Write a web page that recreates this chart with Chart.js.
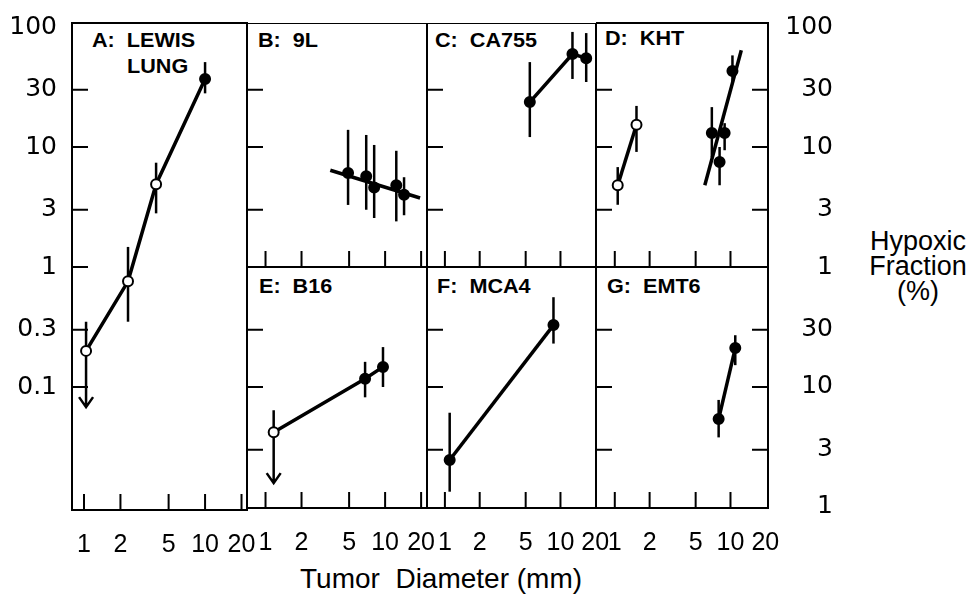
<!DOCTYPE html>
<html>
<head>
<meta charset="utf-8">
<script src="https://cdn.jsdelivr.net/npm/chart.js@4.4.1/dist/chart.umd.min.js"></script>
<style>
  body { margin: 0; background: #fff; }
  #fig { position: relative; width: 979px; height: 600px; overflow: hidden; color: #000;
         font-family: 'Liberation Sans', Arial, sans-serif; }
  .panel { position: absolute; }
  .tag { position: absolute; font-weight: bold; font-size: 20px; line-height: 1; white-space: pre;
         transform: scaleX(1.08); transform-origin: left top; }
  .title { position: absolute; font-size: 28px; line-height: 1; white-space: pre; }
  .side { position: absolute; font-size: 27px; line-height: 25px; text-align: center; width: 140px; }
</style>
</head>
<body>
<div id="fig">
  <div class="tag" style="left:92px;top:30px">A:  LEWIS</div>
  <div class="tag" style="left:127px;top:56px">LUNG</div>
  <div class="tag" style="left:258px;top:30px">B:  9L</div>
  <div class="tag" style="left:435px;top:30px">C:  CA755</div>
  <div class="tag" style="left:605px;top:28px">D:  KHT</div>
  <div class="tag" style="left:259px;top:276px">E:  B16</div>
  <div class="tag" style="left:437px;top:276px">F:  MCA4</div>
  <div class="tag" style="left:607px;top:276px">G:  EMT6</div>
  <div class="title" style="left:300px;top:565px">Tumor  Diameter (mm)</div>
  <div class="side" style="left:848px;top:229px">Hypoxic<br>Fraction<br>(%)</div>
</div>
<script>
// axis ticks
const xTicks = [1, 2, 5, 10, 20];
const yTicksLeft = [100, 30, 10, 3, 1, 0.3, 0.1];
const yTicksTop = [100, 30, 10, 3, 1];
const yTicksBottom = [30, 10, 3, 1];
const yMarks = [30, 10, 3, 1, 0.3, 0.1];

// A: Lewis lung
const lewisX = [1.04, 2.31, 3.94, 10.0];
const lewisY = [0.20, 0.76, 4.9, 36.9];
const lewisLo = [0.068, 0.35, 2.8, 28];
const lewisHi = [0.35, 1.47, 7.4, 51];
const lewisOpen = [true, true, true, false];
const lewisArrow = [true, false, false, false];

// B: 9L
const nineLX = [4.9, 6.95, 8.1, 12.4, 14.4];
const nineLY = [6.07, 5.7, 4.6, 4.8, 4.0];
const nineLLo = [3.29, 3.0, 2.56, 2.4, 2.7];
const nineLHi = [13.9, 12.6, 10.4, 9.3, 5.6];
const nineLFitX = [3.48, 19.6];
const nineLFitY = [6.4, 3.76];

// C: CA755
const ca755X = [5.43, 12.7, 16.7];
const ca755Y = [23.7, 59.6, 55];
const ca755Lo = [12.1, 36.9, 34.8];
const ca755Hi = [51, 91, 89];

// D: KHT
const khtOpenX = [1.06, 1.54];
const khtOpenY = [4.8, 15.3];
const khtOpenLo = [3.3, 9.1];
const khtOpenHi = [6.8, 22];
const khtX = [6.9, 8.05, 8.9, 10.4];
const khtY = [13.1, 7.5, 13.1, 43];
const khtLo = [8.2, 4.8, 9.4, 34];
const khtHi = [21.5, 10, 15.8, 58];
const khtFitX = [6.0, 12.4];
const khtFitY = [4.8, 64];

// E: B16
const b16X = [1.17, 6.8, 9.6];
const b16Y = [4.2, 11.7, 14.7];
const b16Lo = [1.58, 8.2, 10];
const b16Hi = [6.4, 16.2, 21.5];
const b16Open = [true, false, false];
const b16Arrow = [true, false, false];

// F: MCA4
const mca4X = [1.10, 8.7];
const mca4Y = [2.46, 32.8];
const mca4Lo = [1.34, 23];
const mca4Hi = [6.1, 56];

// G: EMT6
const emt6X = [7.9, 11.0];
const emt6Y = [5.4, 21.1];
const emt6Lo = [3.8, 15.2];
const emt6Hi = [7.8, 27];

// pick a narrow face for the x labels if one is installed
function hasFont(name) {
  const c = document.createElement('canvas').getContext('2d');
  c.font = '40px monospace';
  const base = c.measureText('0123456789 Diameter').width;
  c.font = "40px '" + name + "', monospace";
  return c.measureText('0123456789 Diameter').width !== base;
}
const narrow = hasFont('Liberation Sans Narrow');
const xFont = narrow
  ? { family: "'Liberation Sans Narrow'", size: 27 }
  : { family: "'Liberation Sans', Arial, sans-serif", size: 25 };
const yFont = { family: "'DejaVu Sans', 'Liberation Sans', sans-serif", size: 25 };

function series(xs, ys, opt) {
  opt = opt || {};
  return {
    data: xs.map((x, i) => ({ x: x, y: ys[i] })),
    errLo: opt.lo,
    errHi: opt.hi,
    arrow: opt.arrow || [],
    showLine: opt.line !== false,
    borderColor: '#000',
    borderWidth: 3.5,
    pointRadius: opt.noPoints ? 0 : 5,
    pointBackgroundColor: xs.map((_, i) => (opt.open && opt.open[i]) ? '#fff' : '#000'),
    pointBorderColor: '#000',
    pointBorderWidth: 2,
    tension: 0
  };
}

const framePlugin = {
  id: 'frame',
  beforeDatasetsDraw(chart) {
    const ctx = chart.ctx;
    const sx = chart.scales.x, sy = chart.scales.y;
    ctx.save();
    ctx.strokeStyle = '#000';
    ctx.lineWidth = 2.5;
    chart.data.datasets.forEach(ds => {
      if (!ds.errLo) return;
      ds.data.forEach((p, i) => {
        const x = sx.getPixelForValue(p.x);
        const y0 = sy.getPixelForValue(ds.errLo[i]);
        const y1 = sy.getPixelForValue(ds.errHi[i]);
        ctx.beginPath();
        ctx.moveTo(x, y0);
        ctx.lineTo(x, y1);
        if (ds.arrow[i]) {
          ctx.moveTo(x - 7, y0 - 10);
          ctx.lineTo(x, y0);
          ctx.lineTo(x + 7, y0 - 10);
        }
        ctx.stroke();
      });
    });
    ctx.restore();
  },
  afterDraw(chart, args, opts) {
    const ctx = chart.ctx, a = chart.chartArea;
    const sx = chart.scales.x, sy = chart.scales.y;
    const len = 16;
    ctx.save();
    ctx.strokeStyle = '#000';
    ctx.lineWidth = 2;
    ctx.strokeRect(a.left, a.top, a.right - a.left, a.bottom - a.top);
    ctx.beginPath();
    yMarks.forEach(v => {
      const y = sy.getPixelForValue(v);
      if (y < a.top + 4 || y > a.bottom - 4) return;
      ctx.moveTo(a.left, y); ctx.lineTo(a.left + len, y);
      if (opts.right) { ctx.moveTo(a.right, y); ctx.lineTo(a.right - len, y); }
    });
    xTicks.forEach(v => {
      const x = sx.getPixelForValue(v);
      if (x < a.left + 3 || x > a.right - 3) return;
      ctx.moveTo(x, a.bottom); ctx.lineTo(x, a.bottom - len);
    });
    ctx.stroke();
    ctx.restore();
  }
};

const fig = document.getElementById('fig');

function panel(p) {
  const pad = Object.assign({ l: 0, r: 0, t: 0, b: 0 }, p.pad);
  const div = document.createElement('div');
  div.className = 'panel';
  div.style.left = (p.area.l - pad.l) + 'px';
  div.style.top = (p.area.t - pad.t) + 'px';
  div.style.width = (p.area.w + pad.l + pad.r) + 'px';
  div.style.height = (p.area.h + pad.t + pad.b) + 'px';
  const canvas = document.createElement('canvas');
  div.appendChild(canvas);
  fig.appendChild(div);

  const yPos = p.yTicks ? p.yPos : null;
  const xScale = {
    type: 'logarithmic',
    min: p.xRange[0],
    max: p.xRange[1],
    display: !!p.xLabels,
    grid: { display: false, drawTicks: false },
    border: { display: false },
    afterBuildTicks: s => { s.ticks = xTicks.map(v => ({ value: v })); },
    ticks: { autoSkip: false, maxRotation: 0, padding: 20, color: '#000', font: xFont,
             callback: v => String(v) }
  };
  if (p.xLabels) {
    xScale.afterFit = s => { s.height = pad.b; s.paddingLeft = 0; s.paddingRight = 0; };
  }
  const yScale = {
    type: 'logarithmic',
    position: yPos || 'left',
    min: p.yRange[0],
    max: p.yRange[1],
    display: !!yPos,
    grid: { display: false, drawTicks: false },
    border: { display: false },
    afterBuildTicks: s => { s.ticks = (p.yTicks || []).map(v => ({ value: v })); },
    ticks: { autoSkip: false, padding: 15, color: '#000', font: yFont,
             crossAlign: yPos === 'right' ? 'far' : 'near',
             callback: v => String(v) }
  };
  if (yPos) {
    yScale.afterFit = s => {
      s.width = yPos === 'left' ? pad.l : pad.r;
      s.paddingTop = 0; s.paddingBottom = 0;
    };
  }

  return new Chart(canvas, {
    type: 'scatter',
    data: { datasets: p.datasets },
    plugins: [framePlugin],
    options: {
      responsive: true,
      maintainAspectRatio: false,
      animation: false,
      events: [],
      layout: {
        autoPadding: false,
        padding: {
          left: yPos === 'left' ? 0 : pad.l,
          right: yPos === 'right' ? 0 : pad.r,
          top: pad.t,
          bottom: p.xLabels ? 0 : pad.b
        }
      },
      plugins: {
        legend: { display: false },
        tooltip: { enabled: false },
        frame: { right: !!p.rightMarks }
      },
      scales: { x: xScale, y: yScale }
    }
  });
}

const rangeA = [0.00944, 108];
const rangeTop = [1, 108];
const rangeBottom = [0.98, 100];
const colA = [0.796, 22.2];
const colB = [0.708, 22.4];
const colC = [0.730, 20.3];
const colD = [0.688, 21.1];

panel({
  area: { l: 72, t: 23, w: 175, h: 487 }, pad: { l: 72, r: 15, t: 15, b: 50 },
  xRange: colA, yRange: rangeA, xLabels: true, yTicks: yTicksLeft, yPos: 'left',
  datasets: [series(lewisX, lewisY, { lo: lewisLo, hi: lewisHi, open: lewisOpen, arrow: lewisArrow })]
});
panel({
  area: { l: 247, t: 23, w: 180, h: 244 },
  xRange: colB, yRange: rangeTop,
  datasets: [
    series(nineLFitX, nineLFitY, { noPoints: true }),
    series(nineLX, nineLY, { lo: nineLLo, hi: nineLHi, line: false })
  ]
});
panel({
  area: { l: 427, t: 23, w: 169, h: 244 },
  xRange: colC, yRange: rangeTop,
  datasets: [series(ca755X, ca755Y, { lo: ca755Lo, hi: ca755Hi })]
});
panel({
  area: { l: 596, t: 23, w: 172, h: 244 }, pad: { r: 65, t: 15, b: 15 },
  xRange: colD, yRange: rangeTop, yTicks: yTicksTop, yPos: 'right', rightMarks: true,
  datasets: [
    series(khtOpenX, khtOpenY, { lo: khtOpenLo, hi: khtOpenHi, open: [true, true] }),
    series(khtFitX, khtFitY, { noPoints: true }),
    series(khtX, khtY, { lo: khtLo, hi: khtHi, line: false })
  ]
});
panel({
  area: { l: 247, t: 267, w: 180, h: 241 }, pad: { l: 10, r: 15, b: 50 },
  xRange: colB, yRange: rangeBottom, xLabels: true,
  datasets: [series(b16X, b16Y, { lo: b16Lo, hi: b16Hi, open: b16Open, arrow: b16Arrow })]
});
panel({
  area: { l: 427, t: 267, w: 169, h: 241 }, pad: { l: 10, r: 15, b: 50 },
  xRange: colC, yRange: rangeBottom, xLabels: true,
  datasets: [series(mca4X, mca4Y, { lo: mca4Lo, hi: mca4Hi })]
});
panel({
  area: { l: 596, t: 267, w: 172, h: 241 }, pad: { l: 10, r: 65, t: 0, b: 50 },
  xRange: colD, yRange: rangeBottom, xLabels: true, yTicks: yTicksBottom, yPos: 'right', rightMarks: true,
  datasets: [series(emt6X, emt6Y, { lo: emt6Lo, hi: emt6Hi })]
});
</script>
</body>
</html>
